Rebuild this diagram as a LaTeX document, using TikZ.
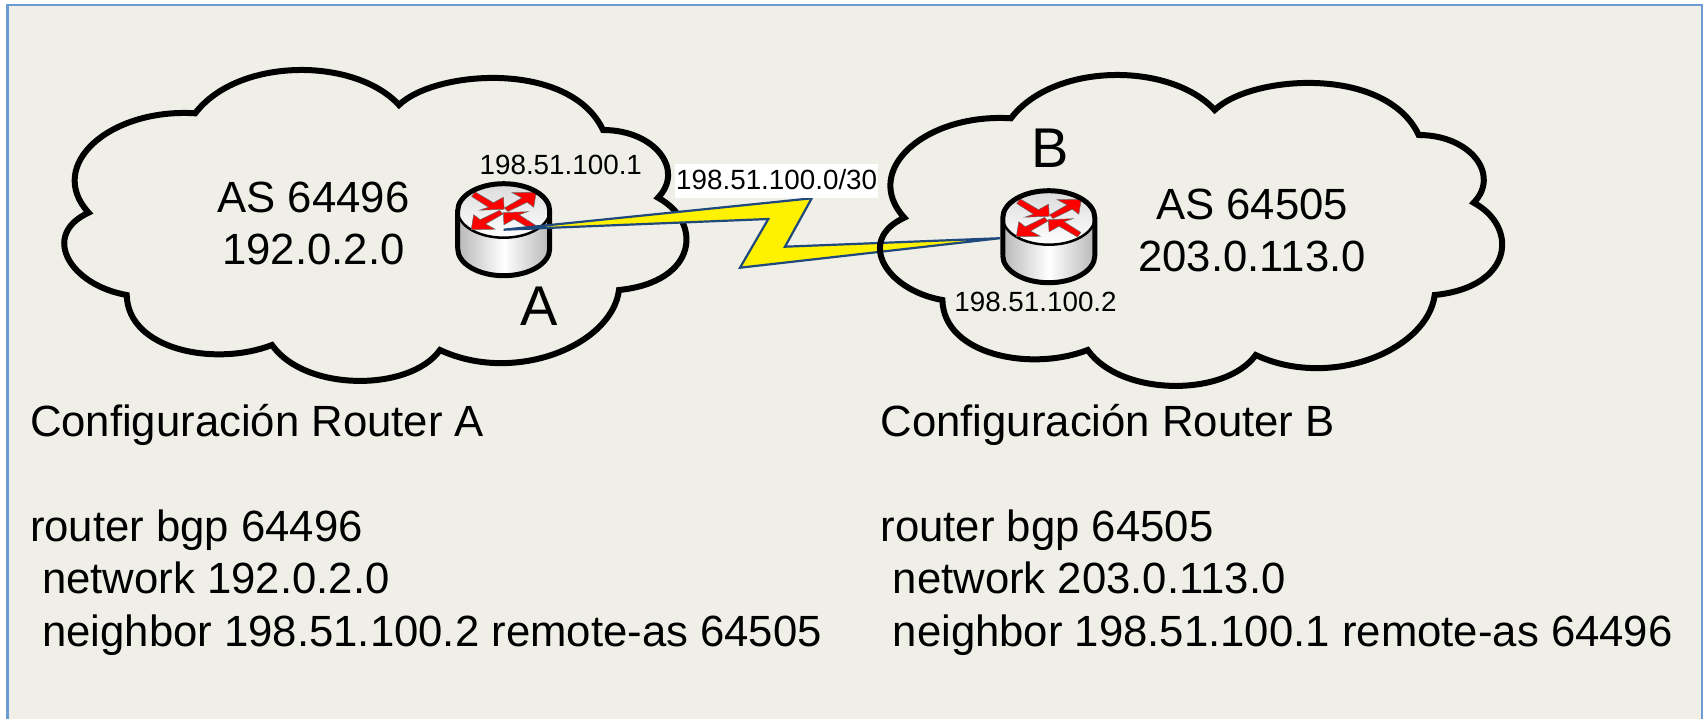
\documentclass[tikz,border=0pt]{standalone}
\usepackage{fontspec}
\setmainfont{Liberation Sans}
\usetikzlibrary{calc}
\definecolor{panelbg}{RGB}{239,239,231}
\definecolor{panelline}{RGB}{108,155,210}
\definecolor{boltline}{RGB}{31,73,125}
\tikzset{
  cloudline/.style={line width=6pt, line join=miter},
  bigtext/.style={font=\fontsize{43.7}{52.5}\selectfont, inner sep=0pt},
  iptext/.style={font=\fontsize{27.8}{32}\selectfont, inner sep=0pt, anchor=base},
  lettertext/.style={font=\fontsize{56}{60}\selectfont, inner sep=0pt, anchor=base},
  routerbox/.style={minimum width=97pt, minimum height=97pt, inner sep=0pt},
  arrowpart/.style={fill=red, draw=black!60, line width=.5pt},
  asCloud/.pic={
    \draw[cloudline] (88.6,212.7)
      .. controls (45,165) and (110,108) .. (195.2,113.3)
      .. controls (238,57) and (355,57) .. (399,105)
      .. controls (435,70) and (570,60) .. (603,130)
      .. controls (655,130) and (685,170) .. (658,197.7)
      .. controls (703,222) and (698,282) .. (619,290)
      .. controls (612,345) and (515,385) .. (440,350)
      .. controls (410,392) and (305,392) .. (272,345)
      .. controls (215,367) and (128,350) .. (126.7,295)
      .. controls (70,285) and (40,235) .. cycle;
  },
  routerPic/.pic={
    \shade[left color=black!28, right color=black!28, middle color=white]
      (-46,-19) -- (-46,19) arc[start angle=180, end angle=0, x radius=46, y radius=27] -- (46,-19) -- cycle;
    \shade[draw=black, line width=2.5pt, top color=black!14, bottom color=white]
      (0,-19) ellipse [x radius=46, y radius=27];
    \foreach \flip/\lift in {1/-19, -1/-18.5} {
      \begin{scope}[shift={(0,\lift)}, xscale=\flip, yscale=\flip]
        \filldraw[arrowpart] (0.5,-1.5) -- (-0.3,-13.5) -- (-10.3,-8) -- (-28.7,-18.8) -- (-32,-14.2) -- (-15.3,-3.5) -- (-24,-0.5) -- cycle;
        \filldraw[arrowpart] (32.5,-18.5) -- (8.5,-18) -- (18.2,-12.8) -- (0.8,-2.8) -- (4.2,0.8) -- (23.5,-8.5) -- (30,-3.5) -- cycle;
      \end{scope}
    }
    \draw[line width=5pt] (-46,19) -- (-46,-19) arc[start angle=180, end angle=360, x radius=46, y radius=27]
      -- (46,19) arc[start angle=0, end angle=180, x radius=46, y radius=27];
  },
}
\begin{document}
\begin{tikzpicture}[x=1pt,y=-1pt]
\clip (0,0) rectangle (1703,718);
\fill[white] (0,0) rectangle (1703,718);
\draw[panelline, line width=2.2pt, fill=panelbg] (7.5,5) rectangle (1702,740);

\node[routerbox] (routerA) at (503.7,229.7) {};
\node[routerbox] (routerB) at (1048.8,236.7) {};
\pic at (routerA) {routerPic};
\pic {asCloud};
\filldraw[fill=yellow, draw=boltline, line width=2.2pt]
  (routerA.center) -- (811.7,198.3) -- (785,246.7) -- ($(routerB.west)+(0,1.5)$) -- (740,267.7) -- (768.3,219) -- cycle;
\pic at (815.7,5) {asCloud};
\pic at (routerB) {routerPic};

\node[bigtext, align=center] (asA) at (313.5,223.5) {AS 64496\\192.0.2.0};
\node[bigtext, align=center] (asB) at (1252,230.5) {AS 64505\\203.0.113.0};
\node[iptext] (ipA) at (560.8,174.3) {198.51.100.1};
\node[iptext] (ipB) at (1035.5,311.7) {198.51.100.2};
\node[iptext, fill=white, inner xsep=1pt, inner ysep=0pt, text height=25pt, text depth=9pt] (ipNet) at (776.7,189.3) {198.51.100.0/30};
\node[lettertext] (nameA) at (539,325) {A};
\node[lettertext] (nameB) at (1050,167.7) {B};

\node[bigtext, align=left, anchor=north west] (confA) at (29.8,404) {Configuración Router A\\[52.5pt]router bgp 64496\\~network 192.0.2.0\\~neighbor 198.51.100.2 remote-as 64505};
\node[bigtext, align=left, anchor=north west] (confB) at (880.4,404) {Configuración Router B\\[52.5pt]router bgp 64505\\~network 203.0.113.0\\~neighbor 198.51.100.1 remote-as 64496};
\end{tikzpicture}
\end{document}
